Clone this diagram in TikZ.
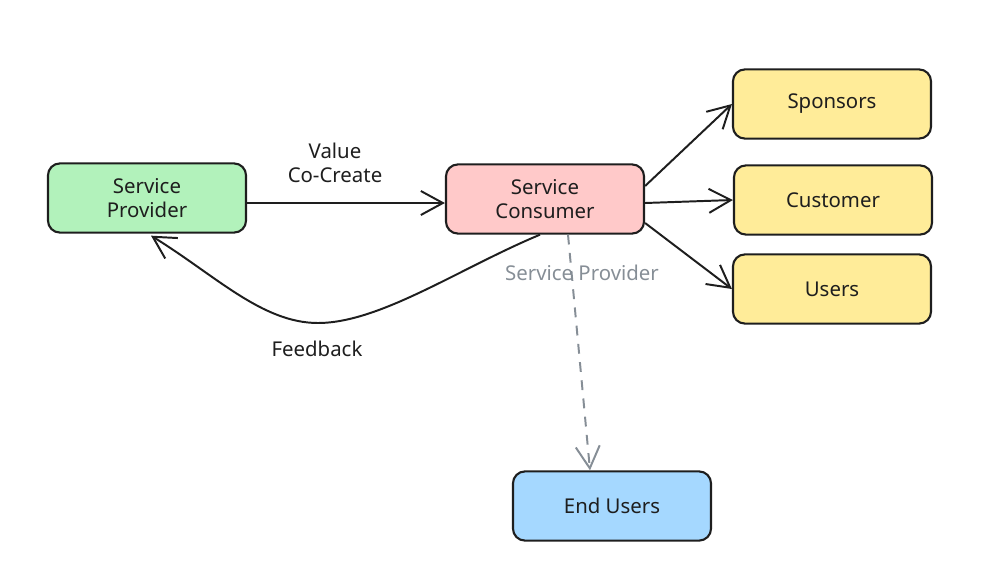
\documentclass[tikz,border=0pt]{standalone}
\usepackage{fontspec}
\setmainfont{Noto Sans}
\usepackage{xcolor}
\usetikzlibrary{arrows.meta,positioning,calc}

\definecolor{inkdark}{HTML}{1E1E1E}
\definecolor{inkgray}{HTML}{868E96}
\definecolor{fillgreen}{HTML}{B2F2BB}
\definecolor{fillpink}{HTML}{FFC9C9}
\definecolor{fillyellow}{HTML}{FFEC99}
\definecolor{fillblue}{HTML}{A5D8FF}

\begin{document}
\begin{tikzpicture}[
    x=0.025cm, y=-0.025cm,
    font=\fontsize{14.5}{17.5}\selectfont,
    box/.style={rectangle, rounded corners=0.3cm, draw=inkdark, line width=1.5pt,
        minimum width=4.95cm, minimum height=1.73cm, align=center, text=inkdark},
    provider/.style={box, fill=fillgreen},
    consumer/.style={box, fill=fillpink},
    target/.style={box, fill=fillyellow},
    enduser/.style={box, fill=fillblue},
    arrow/.style={-{Straight Barb[length=5.5mm, width=6mm, line width=1.4pt]}, line width=1.4pt, draw=inkdark},
    dasharrow/.style={-{Straight Barb[length=5.5mm, width=6mm, line width=1.4pt]}, line width=1.4pt, draw=inkgray, dash pattern=on 7pt off 6pt},
    label/.style={align=center, text=inkdark}
]
    \useasboundingbox (0,0) rectangle (991,587);

    % Boxes
    \node[provider] (SP) at (147,198) {Service\\Provider};
    \node[consumer] (SC) at (545,199) {Service\\Consumer};
    \node[target] (SPN) at (832,104) {Sponsors};
    \node[target] (CUS) at (833,200) {Customer};
    \node[target] (USR) at (832,289) {Users};
    \node[enduser] (EU) at (612,506) {End Users};

    % Arrows
    \draw[arrow] (SP.east |- 0,203) -- (SC.west |- 0,203);
    \coordinate (fbLow) at (318,323);
    \draw[arrow] ($(SC.south)+(-5,0)$) .. controls (460,268) and (380,323) .. (fbLow)
        .. controls (262,323) and (215,275) .. ($(SP.south)+(4,2)$);

    \draw[arrow] ($(SC.east)+(0,-13)$) -- (SPN.west);
    \draw[arrow] ($(SC.east)+(0,4)$) -- (CUS.west);
    \draw[arrow] ($(SC.east)+(0,24)$) -- (USR.west);

    \draw[dasharrow] ($(SC.south)+(23,0)$) -- ($(EU.north)+(-22,0)$);

    % Labels
    \node[label] (VAL) at (335,163) {Value\\Co-Create};
    \node[label] (FB) at (317,349) {Feedback};
    \node[label, text=inkgray] (SPL) at (582,273) {Service Provider};
\end{tikzpicture}
\end{document}
